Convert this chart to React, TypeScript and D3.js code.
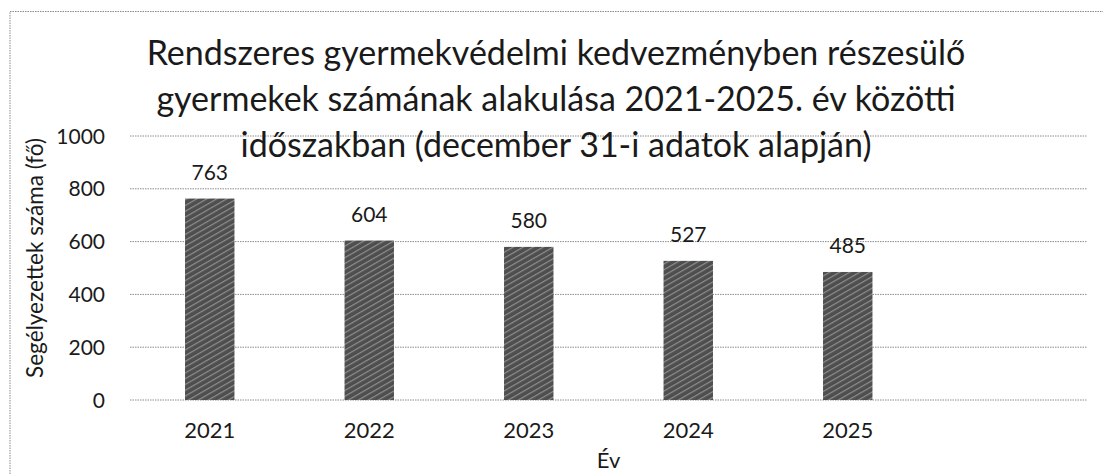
import React from "react";
import * as d3 from "d3";

const categories: string[] = ["2021", "2022", "2023", "2024", "2025"];
const values: number[] = [763, 604, 580, 527, 485];
const yTicks: number[] = [0, 200, 400, 600, 800, 1000];
const titleLines: string[] = [
  "Rendszeres gyermekvédelmi kedvezményben részesülő",
  "gyermekek számának alakulása 2021-2025. év közötti",
  "időszakban (december 31-i adatok alapján)",
];
const yAxisTitle = "Segélyezettek száma (fő)";
const xAxisTitle = "Év";

const W = 1103;
const H = 474;
const plot = { left: 130, right: 1087, top: 136, bottom: 400 };
const FONT = "Lato, 'Open Sans', sans-serif";
const TEXT = "#1a1a1a";

export default function App() {
  const x = d3
    .scaleBand<string>()
    .domain([...categories, ""])
    .range([plot.left, plot.right])
    .paddingInner(0.69)
    .paddingOuter(0.345);
  const y = d3.scaleLinear().domain([0, 1000]).range([plot.bottom, plot.top]);
  const titleCx = 556;

  return (
    <svg
      width={W}
      height={H}
      style={{ position: "absolute", left: 0, top: 0, background: "#fff" }}
      fontFamily={FONT}
    >
      <defs>
        <pattern
          id="hatch"
          width="5"
          height="5"
          patternUnits="userSpaceOnUse"
          patternTransform="rotate(-30)"
        >
          <rect width="5" height="5" fill="#4e4e4e" />
          <rect width="5" height="1.2" fill="#8e8e8e" />
        </pattern>
      </defs>
      <rect width={W} height={H} fill="#fff" />
      {/* chart border */}
      <rect
        x={10}
        y={11.5}
        width={1100}
        height={480}
        fill="none"
        stroke="#8a8a8a"
        strokeWidth={1}
        strokeDasharray="1.5,1"
      />
      {/* gridlines */}
      {yTicks.map((t) => (
        <line
          key={"g" + t}
          x1={plot.left}
          x2={plot.right}
          y1={y(t)}
          y2={y(t)}
          stroke="#8c8c8c"
          strokeWidth={1}
          strokeDasharray="1.5,1"
        />
      ))}
      {/* y tick labels */}
      {yTicks.map((t) => (
        <text
          key={"t" + t}
          x={105}
          y={y(t)}
          dy="0.36em"
          textAnchor="end"
          fontSize={21}
          fill={TEXT}
        >
          {t}
        </text>
      ))}
      {/* bars */}
      {categories.map((c, i) => (
        <rect
          key={"b" + c}
          x={x(c)!}
          y={y(values[i])}
          width={x.bandwidth()}
          height={y(0) - y(values[i])}
          fill="url(#hatch)"
        />
      ))}
      {/* data labels */}
      {categories.map((c, i) => (
        <text
          key={"l" + c}
          x={x(c)! + x.bandwidth() / 2}
          y={y(values[i]) - 19}
          textAnchor="middle"
          fontSize={21}
          fill={TEXT}
        >
          {values[i]}
        </text>
      ))}
      {/* x tick labels */}
      {categories.map((c) => (
        <text
          key={"x" + c}
          x={x(c)! + x.bandwidth() / 2}
          y={438}
          textAnchor="middle"
          fontSize={22}
          fill={TEXT}
        >
          {c}
        </text>
      ))}
      {/* axis titles */}
      <text
        x={(plot.left + plot.right) / 2}
        y={468}
        textAnchor="middle"
        fontSize={22}
        fill={TEXT}
      >
        {xAxisTitle}
      </text>
      <text
        transform={`translate(43, 258) rotate(-90)`}
        textAnchor="middle"
        fontSize={22.5}
        fill={TEXT}
      >
        {yAxisTitle}
      </text>
      {/* title */}
      {titleLines.map((line, i) => (
        <text
          key={"title" + i}
          x={titleCx}
          y={65 + i * 46}
          textAnchor="middle"
          fontSize={34}
          fill={TEXT}
        >
          {line}
        </text>
      ))}
    </svg>
  );
}
